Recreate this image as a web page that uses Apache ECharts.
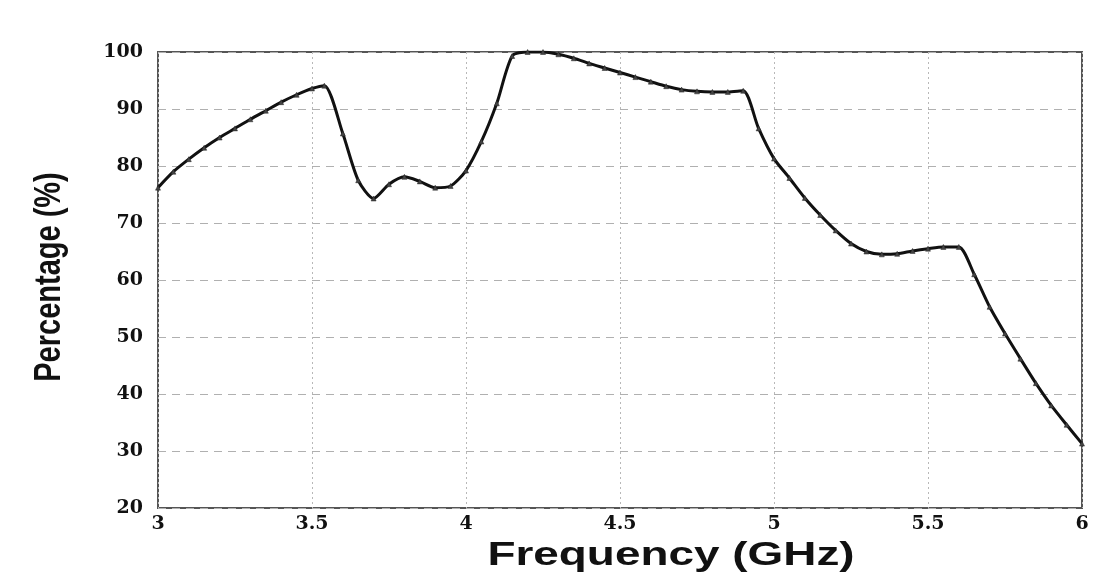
<!DOCTYPE html>
<html>
<head>
<meta charset="utf-8">
<script src="https://cdn.jsdelivr.net/npm/echarts@6/dist/echarts.min.js"></script>
<style>
  html, body { margin: 0; padding: 0; background: #fff; }
  #chart { width: 1093px; height: 574px; }
</style>
</head>
<body>
<div id="chart"></div>
<script>
// frequency points (GHz)
const freq = [
  3.00, 3.05, 3.10, 3.15, 3.20, 3.25, 3.30, 3.35, 3.40, 3.45, 3.50, 3.54,
  3.60, 3.65, 3.70, 3.75, 3.80, 3.85, 3.90, 3.95, 4.00, 4.05, 4.10, 4.15,
  4.20, 4.25, 4.30, 4.35, 4.40, 4.45, 4.50, 4.55, 4.60, 4.65, 4.70, 4.75,
  4.80, 4.85, 4.90, 4.95, 5.00, 5.05, 5.10, 5.15, 5.20, 5.25, 5.30, 5.35,
  5.40, 5.45, 5.50, 5.55, 5.60, 5.65, 5.70, 5.75, 5.80, 5.85, 5.90, 5.95, 6.00
]
// percentage (%)
const pct = [
  76.2, 79.0, 81.2, 83.2, 85.0, 86.6, 88.2, 89.7, 91.2, 92.5, 93.6, 94.1,
  85.7, 77.5, 74.3, 76.8, 78.1, 77.3, 76.2, 76.5, 79.2, 84.3, 91.0, 99.3,
  100.0, 100.0, 99.6, 98.9, 98.0, 97.2, 96.4, 95.6, 94.8, 94.0, 93.4, 93.1,
  93.0, 93.0, 93.2, 86.6, 81.3, 77.9, 74.4, 71.4, 68.7, 66.4, 65.0, 64.5,
  64.6, 65.1, 65.5, 65.8, 65.8, 61.0, 55.3, 50.6, 46.2, 41.9, 38.0, 34.6, 31.3
]
const xTitle = 'Frequency (GHz)'
const yTitle = 'Percentage (%)'

const chart = echarts.init(document.getElementById('chart'))
const tickFont = {
  fontFamily: 'DejaVu Serif',
  fontWeight: 'bold',
  fontSize: 19,
  color: '#111'
}

chart.setOption({
  animation: false,
  grid: {
    left: 158,
    right: 11,
    top: 52,
    bottom: 66,
    show: true,
    borderColor: '#555',
    borderWidth: 2
  },
  xAxis: {
    type: 'value',
    min: 3,
    max: 6,
    interval: 0.5,
    axisLine: { show: false },
    axisTick: { show: false },
    axisLabel: Object.assign({ margin: 7 }, tickFont),
    splitLine: {
      show: true,
      lineStyle: { color: '#b8b8b8', type: [2, 3], width: 1 }
    }
  },
  yAxis: {
    type: 'value',
    min: 20,
    max: 100,
    interval: 10,
    axisLine: { show: false },
    axisTick: { show: false },
    axisLabel: Object.assign({ margin: 15 }, tickFont),
    splitLine: {
      show: true,
      lineStyle: { color: '#b0b0b0', type: [8, 6], width: 1 }
    }
  },
  // axis titles, stretched like the scanned figure
  graphic: [
    {
      type: 'text',
      x: 671,
      y: 556,
      scaleX: 1.35,
      style: {
        text: xTitle,
        font: 'bold 34px "Liberation Sans", Arial, sans-serif',
        fill: '#111',
        textAlign: 'center',
        textVerticalAlign: 'middle'
      }
    },
    {
      type: 'text',
      x: 50,
      y: 277,
      rotation: Math.PI / 2,
      scaleY: 1.3,
      style: {
        text: yTitle,
        font: 'bold 29px "Liberation Sans", Arial, sans-serif',
        fill: '#111',
        textAlign: 'center',
        textVerticalAlign: 'middle'
      }
    }
  ],
  series: [
    {
      type: 'line',
      data: freq.map((f, i) => [f, pct[i]]),
      smooth: 0.25,
      symbol: 'triangle',
      symbolSize: 5,
      showAllSymbol: true,
      lineStyle: { color: '#111', width: 3 },
      itemStyle: { color: '#444', borderColor: '#222', borderWidth: 0.5 }
    }
  ]
})
</script>
</body>
</html>
